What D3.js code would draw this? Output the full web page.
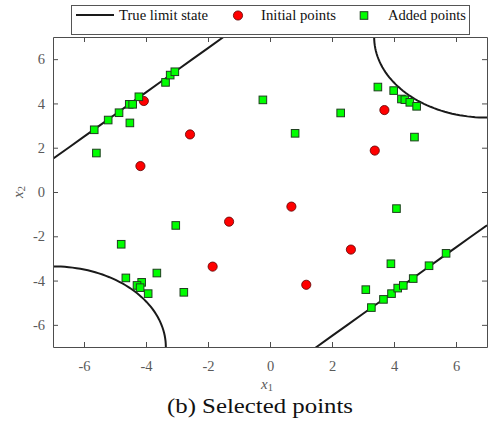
<!DOCTYPE html>
<html>
<head>
<meta charset="utf-8">
<script src="https://cdn.jsdelivr.net/npm/d3@7"></script>
<style>
body { margin: 0; background: #fff; }
</style>
</head>
<body>
<svg width="491" height="427"></svg>
<script>
// initial design points
let initX = [-4.07, -4.18, -2.58, 3.69, 3.38, -1.32, -1.85, 0.69, 2.61, 1.17];
let initY = [4.11, 1.17, 2.60, 3.70, 1.87, -1.34, -3.37, -0.66, -2.60, -4.19];

// points added by the active learning
let addX = [-5.67, -5.60, -5.22, -4.87, -4.54, -4.43, -4.52, -4.23, -3.37, -3.22, -3.07,
            -0.23, 0.81, 2.28, 3.48, 3.99, 4.24, 4.35, 4.51, 4.73, 4.66,
            -3.04, -4.80, -3.65, -4.65, -4.14, -4.29, -4.19, -3.93, -2.78,
            4.08, 3.90, 3.09, 3.27, 3.66, 3.92, 4.12, 4.30, 4.62, 5.13, 5.68];
let addY = [2.81, 1.76, 3.25, 3.58, 3.96, 3.96, 3.12, 4.30, 4.95, 5.28, 5.43,
            4.16, 2.65, 3.57, 4.74, 4.58, 4.20, 4.17, 4.05, 3.87, 2.48,
            -1.51, -2.36, -3.66, -3.88, -4.08, -4.22, -4.32, -4.59, -4.53,
            -0.75, -3.24, -4.41, -5.22, -4.85, -4.59, -4.34, -4.22, -3.91, -3.33, -2.77];

// limit state: two lines x2 = x1 + c and two quarter circles in the corners
let lineOffsets = [8.5, -8.5];
let arcCenters = [[7, 7], [-7, -7]];
let arcRadius = 3.64;

let xTicks = [-6, -4, -2, 0, 2, 4, 6];
let yTicks = [-6, -4, -2, 0, 2, 4, 6];

let serif = "'Liberation Serif', serif";

let svg = d3.select("svg");
let margin = {left: 53, right: 4, top: 37, bottom: 80};
let W = 491, H = 427;

let x = d3.scaleLinear().domain([-7, 7]).range([margin.left, W - margin.right]);
let y = d3.scaleLinear().domain([-7, 7]).range([H - margin.bottom, margin.top]);

let axisCol = "#4d4d4d";
let labelCol = "#5a5a5a";

svg.append("defs").append("clipPath").attr("id", "clip")
    .append("rect")
    .attr("x", x(-7)).attr("y", y(7))
    .attr("width", x(7) - x(-7)).attr("height", y(-7) - y(7));

// limit state curves
let line = d3.line().x(d => x(d[0])).y(d => y(d[1]));
let curves = [];
lineOffsets.forEach(c => {
    curves.push(d3.range(-7, 7.01, 0.5).map(v => [v, v + c]));
});
arcCenters.forEach(c => {
    curves.push(d3.range(0, 2 * Math.PI + 0.01, Math.PI / 90)
        .map(t => [c[0] + arcRadius * Math.cos(t), c[1] + arcRadius * Math.sin(t)]));
});

svg.append("g").attr("clip-path", "url(#clip)")
    .selectAll("path").data(curves).enter().append("path")
    .attr("d", line)
    .attr("fill", "none")
    .attr("stroke", "#1a1a1a")
    .attr("stroke-width", 2);

// axes box with inward ticks
let tl = 5;
let fmt = d => String(d);   // plain hyphen minus like the reference
svg.append("g").attr("transform", `translate(0,${y(-7)})`)
    .call(d3.axisBottom(x).tickValues(xTicks).tickSizeInner(-tl).tickSizeOuter(0).tickPadding(13.5).tickFormat(fmt));
svg.append("g").attr("transform", `translate(0,${y(7)})`)
    .call(d3.axisTop(x).tickValues(xTicks).tickSizeInner(-tl).tickSizeOuter(0).tickFormat(""));
svg.append("g").attr("transform", `translate(${x(-7)},0)`)
    .call(d3.axisLeft(y).tickValues(yTicks).tickSizeInner(-tl).tickSizeOuter(0).tickPadding(8).tickFormat(fmt));
svg.append("g").attr("transform", `translate(${x(7)},0)`)
    .call(d3.axisRight(y).tickValues(yTicks).tickSizeInner(-tl).tickSizeOuter(0).tickFormat(""));

svg.selectAll(".domain").attr("stroke", axisCol).attr("stroke-width", 1);
svg.selectAll(".tick line").attr("stroke", axisCol);
svg.selectAll(".tick text")
    .attr("font-family", null)
    .style("font-family", serif)
    .style("font-size", "14.5px")
    .attr("fill", labelCol);

// points
let initPts = initX.map((v, i) => [v, initY[i]]);
let addPts = addX.map((v, i) => [v, addY[i]]);

svg.append("g").selectAll("circle").data(initPts).enter().append("circle")
    .attr("cx", d => x(d[0])).attr("cy", d => y(d[1]))
    .attr("r", 4.6)
    .attr("fill", "#ff0000")
    .attr("stroke", "#5a0000")
    .attr("stroke-width", 0.8);

let s = 7.6;
svg.append("g").selectAll("rect").data(addPts).enter().append("rect")
    .attr("x", d => x(d[0]) - s / 2).attr("y", d => y(d[1]) - s / 2)
    .attr("width", s).attr("height", s)
    .attr("fill", "#00ff00")
    .attr("stroke", "#1f3f1f")
    .attr("stroke-width", 1);

// axis labels
let xl = svg.append("text")
    .attr("x", x(0) - 3).attr("y", 389)
    .attr("text-anchor", "middle")
    .attr("fill", labelCol)
    .style("font-family", serif)
    .style("font-size", "15px");
xl.append("tspan").style("font-style", "italic").text("x");
xl.append("tspan").attr("dy", 1.5).style("font-size", "10.5px").text("1");

let yl = svg.append("text")
    .attr("transform", `translate(23,${y(0)}) rotate(-90)`)
    .attr("text-anchor", "middle")
    .attr("fill", labelCol)
    .style("font-family", serif)
    .style("font-size", "15px");
yl.append("tspan").style("font-style", "italic").text("x");
yl.append("tspan").attr("dy", 2).style("font-size", "11px").text("2");

// caption
svg.append("text")
    .attr("x", 167).attr("y", 413)
    .attr("fill", "#111")
    .attr("textLength", 186)
    .attr("lengthAdjust", "spacingAndGlyphs")
    .style("font-family", serif)
    .style("font-size", "21px")
    .text("(b) Selected points");

// legend
let lg = svg.append("g");
lg.append("rect")
    .attr("x", 71.5).attr("y", 5.5).attr("width", 398).attr("height", 29)
    .attr("fill", "#fff").attr("stroke", "#555").attr("stroke-width", 1);
lg.append("line")
    .attr("x1", 76).attr("x2", 114).attr("y1", 15).attr("y2", 15)
    .attr("stroke", "#1a1a1a").attr("stroke-width", 2);
lg.append("circle").attr("cx", 238).attr("cy", 15.5).attr("r", 4.6)
    .attr("fill", "#ff0000").attr("stroke", "#5a0000").attr("stroke-width", 0.8);
lg.append("rect").attr("x", 364 - s / 2).attr("y", 15.5 - s / 2).attr("width", s).attr("height", s)
    .attr("fill", "#00ff00").attr("stroke", "#1f3f1f").attr("stroke-width", 1);
let legendText = [["True limit state", 119, 89], ["Initial points", 261, 75], ["Added points", 388, 78]];
lg.selectAll("text.lab").data(legendText).enter().append("text")
    .attr("class", "lab")
    .attr("x", d => d[1]).attr("y", 20)
    .attr("fill", "#111")
    .attr("textLength", d => d[2])
    .attr("lengthAdjust", "spacingAndGlyphs")
    .style("font-family", serif)
    .style("font-size", "15px")
    .text(d => d[0]);
</script>
</body>
</html>
